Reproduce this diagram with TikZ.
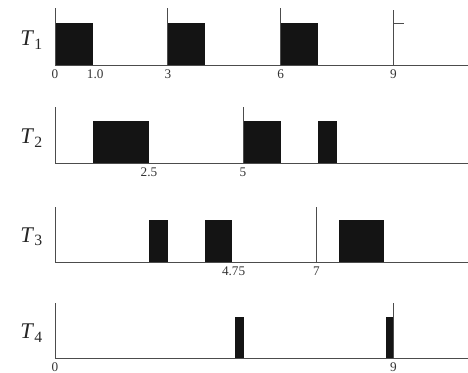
\documentclass[tikz,border=0pt]{standalone}
\usepackage{fontspec}
\setmainfont{Liberation Serif}
\usetikzlibrary{positioning}

\begin{document}
\begin{tikzpicture}[
    box/.style={fill=black!92, draw=none},
    axis/.style={draw=black!70, line width=0.7pt},
    num/.style={font=\fontsize{10}{10}\selectfont, inner sep=0pt, anchor=north, text=black!80},
    rowname/.style={font=\fontsize{17}{17}\selectfont, text=black!85}
  ]
  \useasboundingbox (-1.463,0) rectangle (10.984,9.894);
  \clip (-1.463,0) rectangle (10.984,9.894);

  % row origins
  \coordinate (o1) at (0,8.165);
  \coordinate (o2) at (0,5.559);
  \coordinate (o3) at (0,2.926);
  \coordinate (o4) at (0,0.372);

  % T1
  \foreach \a/\b in {0/1, 3/4, 6/7}
    \fill[box] ([xshift=\a cm]o1) rectangle ([xshift=\b cm, yshift=1.117cm]o1);
  \draw[axis] (o1) -- ++(11.5,0);
  \foreach \t in {0,3,6}
    \draw[axis] ([xshift=\t cm]o1) -- ++(0,1.516);
  \draw[axis] ([xshift=9cm]o1) -- ++(0,1.46);
  \draw[axis] ([xshift=9cm, yshift=1.117cm]o1) -- ++(0.28,0);
  \node[rowname, left=0.2cm of o1, anchor=south east, yshift=0.3cm] (t1) {\textit{T}\textsubscript{1}};
  \node[num] (a0) at ([yshift=-0.13cm]o1) {0};
  \node[num] (a1) at ([xshift=1.07cm, yshift=-0.13cm]o1) {1.0};
  \node[num] (a3) at ([xshift=3cm, yshift=-0.13cm]o1) {3};
  \node[num] (a6) at ([xshift=6cm, yshift=-0.13cm]o1) {6};
  \node[num] (a9) at ([xshift=9cm, yshift=-0.13cm]o1) {9};

  % T2
  \foreach \a/\b in {1/2.5, 5/6, 7/7.5}
    \fill[box] ([xshift=\a cm]o2) rectangle ([xshift=\b cm, yshift=1.117cm]o2);
  \draw[axis] (o2) -- ++(11.5,0);
  \foreach \t in {0,5}
    \draw[axis] ([xshift=\t cm]o2) -- ++(0,1.49);
  \node[rowname, left=0.2cm of o2, anchor=south east, yshift=0.3cm] (t2) {\textit{T}\textsubscript{2}};
  \node[num] (b25) at ([xshift=2.5cm, yshift=-0.13cm]o2) {2.5};
  \node[num] (b5) at ([xshift=5cm, yshift=-0.13cm]o2) {5};

  % T3
  \foreach \a/\b in {2.5/3, 4/4.72, 7.55/8.75}
    \fill[box] ([xshift=\a cm]o3) rectangle ([xshift=\b cm, yshift=1.117cm]o3);
  \draw[axis] (o3) -- ++(11.5,0);
  \foreach \t in {0,6.95}
    \draw[axis] ([xshift=\t cm]o3) -- ++(0,1.46);
  \node[rowname, left=0.2cm of o3, anchor=south east, yshift=0.3cm] (t3) {\textit{T}\textsubscript{3}};
  \node[num] (c475) at ([xshift=4.75cm, yshift=-0.13cm]o3) {4.75};
  \node[num] (c7) at ([xshift=6.95cm, yshift=-0.13cm]o3) {7};

  % T4
  \foreach \a/\b in {4.8/5.02, 8.8/9}
    \fill[box] ([xshift=\a cm]o4) rectangle ([xshift=\b cm, yshift=1.09cm]o4);
  \draw[axis] (o4) -- ++(11.5,0);
  \foreach \t in {0,9}
    \draw[axis] ([xshift=\t cm]o4) -- ++(0,1.46);
  \node[rowname, left=0.2cm of o4, anchor=south east, yshift=0.3cm] (t4) {\textit{T}\textsubscript{4}};
  \node[num] (d0) at ([yshift=-0.12cm]o4) {0};
  \node[num] (d9) at ([xshift=9cm, yshift=-0.12cm]o4) {9};
\end{tikzpicture}
\end{document}
